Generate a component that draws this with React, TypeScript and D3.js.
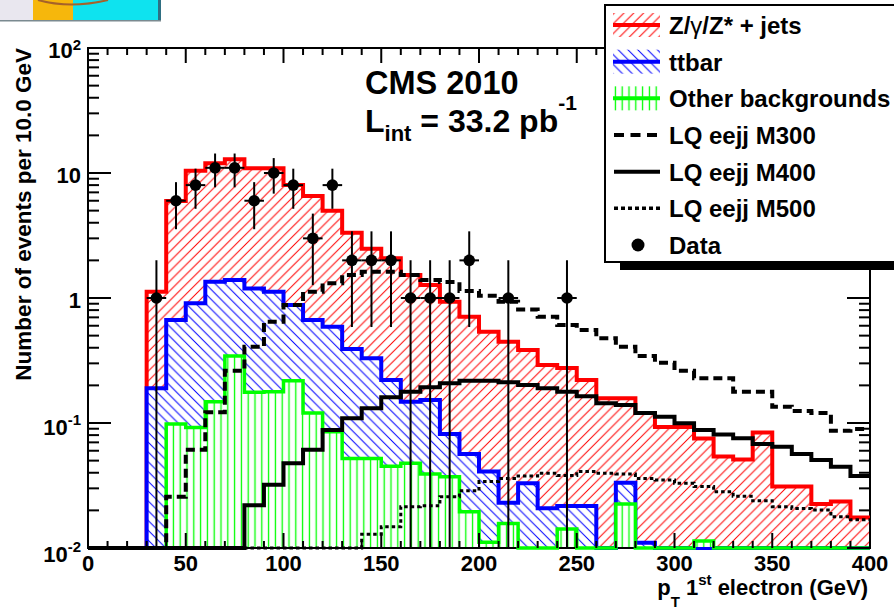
import React from 'react';
import * as d3 from 'd3';

// ---------- data (10 GeV bins, 0..400 GeV) ----------
const BIN_WIDTH = 10;
const binLowEdges = [0,10,20,30,40,50,60,70,80,90,100,110,120,130,140,150,160,170,180,190,200,210,220,230,240,250,260,270,280,290,300,310,320,330,340,350,360,370,380,390];

// stacked totals: Z/gamma/Z*+jets (top of stack)
const zjetsStack = [0,0,0,1.12,5.97,10.4,11.96,12.9,10.9,10.9,8.0,6.55,4.99,3.33,2.48,2.08,1.53,1.27,0.935,0.708,0.537,0.447,0.384,0.291,0.275,0.221,0.158,0.158,0.12,0.093,0.093,0.075,0.054,0.051,0.084,0.031,0.031,0.0225,0.0235,0.0175];
// ttbar + other (stacked)
const ttbarStack = [0,0,0,0.19,0.667,0.906,1.35,1.39,1.19,1.12,0.88,0.667,0.589,0.39,0.33,0.221,0.148,0.153,0.0818,0.0565,0.041,0.023,0.033,0.0208,0.0217,0.0217,0,0.0333,0.011,0,0,0,0,0,0,0,0,0,0,0];
// other backgrounds
const otherBkg = [0,0,0,0,0.098,0.092,0.148,0.344,0.176,0.178,0.218,0.12,0.085,0.052,0.052,0.045,0.0476,0.039,0.0372,0.0195,0.0111,0.0157,0,0,0.0142,0,0,0.0225,0,0,0,0.0114,0,0,0,0,0,0,0,0];
// LQ signals
const lqM300 = [0,0,0,0,0.0257,0.061,0.122,0.262,0.408,0.646,0.88,1.12,1.31,1.53,1.62,1.62,1.53,1.39,1.34,1.14,1.04,0.935,0.81,0.708,0.608,0.555,0.476,0.408,0.344,0.304,0.262,0.228,0.228,0.178,0.178,0.135,0.125,0.12,0.0867,0.0896];
const lqM400 = [0,0,0,0,0,0,0,0,0.022,0.032,0.0476,0.061,0.088,0.109,0.131,0.161,0.178,0.193,0.208,0.218,0.218,0.212,0.201,0.19,0.178,0.164,0.144,0.139,0.12,0.112,0.0995,0.088,0.081,0.0755,0.068,0.0646,0.0565,0.0506,0.0447,0.0377];
const lqM500 = [0,0,0,0,0,0,0,0,0,0,0,0,0,0,0.0129,0.0148,0.0214,0.0218,0.0257,0.0287,0.034,0.036,0.0377,0.0396,0.038,0.041,0.0396,0.039,0.036,0.035,0.033,0.031,0.0282,0.026,0.0239,0.0214,0.0207,0.0201,0.0178,0.0168];
// data counts
const dataCounts = [0,0,0,1,6,8,11,11,6,10,8,3,8,2,2,2,1,1,1,2,0,1,0,0,1,0,0,0,0,0,0,0,0,0,0,0,0,0,0,0];

const xTickValues = [0,50,100,150,200,250,300,350,400];
const xMinorValues = d3.range(0, 401, 10);
const yDecades = [0.01,0.1,1,10,100];
const yDecadeLabels = [['10','-2'],['10','-1'],['1',''],['10',''],['10','2']];

const legendEntries = [
  { key: 'z', label: 'Z/γ/Z* + jets' },
  { key: 't', label: 'ttbar' },
  { key: 'o', label: 'Other backgrounds' },
  { key: 'm3', label: 'LQ eejj M300' },
  { key: 'm4', label: 'LQ eejj M400' },
  { key: 'm5', label: 'LQ eejj M500' },
  { key: 'd', label: 'Data' },
];

const FONT = '"Liberation Sans", Arial, Helvetica, sans-serif';

export default function App() {
  const x = d3.scaleLinear().domain([0, 400]).range([88, 870]);
  const y = d3.scaleLog().domain([0.01, 100]).range([548, 48]);
  const yMin = 0.01, yMax = 100;
  const c = (v: number) => Math.min(yMax, Math.max(yMin, v));
  const floor = y(yMin);

  const stepPath = (vals: number[]) => {
    let d = `M${x(binLowEdges[0])},${y(c(vals[0]))}`;
    vals.forEach((v, i) => {
      if (i > 0) d += `V${y(c(v))}`;
      d += `H${x(binLowEdges[i] + BIN_WIDTH)}`;
    });
    return d;
  };
  const areaPath = (vals: number[]) => {
    let d = `M${x(binLowEdges[0])},${floor}`;
    vals.forEach((v, i) => {
      d += `V${y(c(v))}H${x(binLowEdges[i] + BIN_WIDTH)}`;
    });
    d += `V${floor}Z`;
    return d;
  };

  const minorY: number[] = [];
  yDecades.slice(0, -1).forEach((dec) => {
    for (let k = 2; k <= 9; k++) minorY.push(dec * k);
  });

  const stacks = [
    { vals: zjetsStack, color: '#ff0000', pat: 'url(#hatchRed)', w: 4 },
    { vals: ttbarStack, color: '#0000ff', pat: 'url(#hatchBlue)', w: 4 },
    { vals: otherBkg, color: '#00ff00', pat: 'url(#hatchGreen)', w: 3.5 },
  ];

  const rowY = (i: number) => 25 + i * 36.67;

  return (
    <svg width={894} height={613} style={{ position: 'absolute', left: 0, top: 0, background: '#fff' }} fontFamily={FONT}>
      <defs>
        <pattern id="hatchRed" patternUnits="userSpaceOnUse" width={9.8} height={9.8}>
          <path d="M-1,1 l2,-2 M0,9.8 l9.8,-9.8 M8.8,10.8 l2,-2" stroke="#ff0000" strokeWidth={1} />
        </pattern>
        <pattern id="hatchBlue" patternUnits="userSpaceOnUse" width={9.8} height={9.8}>
          <path d="M-1,8.8 l2,2 M0,0 l9.8,9.8 M8.8,-1 l2,2" stroke="#0000ff" strokeWidth={1} />
        </pattern>
        <pattern id="hatchGreen" patternUnits="userSpaceOnUse" width={6.8} height={10}>
          <path d="M3.4,0 V10" stroke="#00ff00" strokeWidth={1.3} />
        </pattern>
        <clipPath id="inner">
          <rect x={89} y={49} width={780} height={498} />
        </clipPath>
      </defs>

      {/* thumbnail strip at top-left */}
      <g>
        <rect x={0} y={0} width={33} height={21} fill="#e9e7ef" />
        <rect x={33} y={0} width={40} height={21} fill="#f6b70c" />
        <rect x={73} y={0} width={86} height={21} fill="#0ee3ef" />
        <rect x={158} y={0} width={3} height={21} fill="#2f6f82" />
        <path d="M38,0 Q70,9 108,0" fill="none" stroke="#a5622a" strokeWidth={2} />
        <rect x={0} y={20} width={161} height={1.5} fill="#7a8a90" />
      </g>

      {/* frame */}
      <rect x={x(0)} y={y(100)} width={x(400) - x(0)} height={floor - y(100)} fill="none" stroke="#000" strokeWidth={2} />

      {/* stacked histograms */}
      {stacks.map((s, i) => (
        <g key={i}>
          <path d={areaPath(s.vals)} fill="#fff" clipPath="url(#inner)" />
          <path d={areaPath(s.vals)} fill={s.pat} clipPath="url(#inner)" />
          <path d={stepPath(s.vals)} fill="none" stroke={s.color} strokeWidth={s.w} />
        </g>
      ))}

      {/* LQ signal lines */}
      <path d={stepPath(lqM300)} fill="none" stroke="#000" strokeWidth={4} strokeDasharray="9 5" />
      <path d={stepPath(lqM400)} fill="none" stroke="#000" strokeWidth={4} />
      <path d={stepPath(lqM500)} fill="none" stroke="#000" strokeWidth={3} strokeDasharray="3.5 3" />

      {/* axis ticks */}
      <g stroke="#000" strokeWidth={2}>
        {yDecades.map((v) => (
          <g key={'yd' + v}>
            <line x1={x(0)} x2={x(0) + 23} y1={y(v)} y2={y(v)} />
            <line x1={x(400)} x2={x(400) - 23} y1={y(v)} y2={y(v)} />
          </g>
        ))}
        {minorY.map((v) => (
          <g key={'ym' + v}>
            <line x1={x(0)} x2={x(0) + 11} y1={y(v)} y2={y(v)} />
            <line x1={x(400)} x2={x(400) - 11} y1={y(v)} y2={y(v)} />
          </g>
        ))}
        {xMinorValues.map((v) => {
          const major = v % 50 === 0;
          const len = major ? 15 : 7;
          return (
            <g key={'xt' + v}>
              <line x1={x(v)} x2={x(v)} y1={floor} y2={floor - len} />
              <line x1={x(v)} x2={x(v)} y1={y(100)} y2={y(100) + len} />
            </g>
          );
        })}
      </g>

      {/* data with errors */}
      <g>
        {dataCounts.map((n, i) => {
          if (n <= 0) return null;
          const cx = x(binLowEdges[i] + BIN_WIDTH / 2);
          const cy = y(n);
          const e = Math.sqrt(n);
          return (
            <g key={'d' + i}>
              <line x1={cx} x2={cx} y1={y(c(n - e))} y2={y(c(n + e))} stroke="#000" strokeWidth={2} />
              <line x1={x(binLowEdges[i])} x2={x(binLowEdges[i] + BIN_WIDTH)} y1={cy} y2={cy} stroke="#000" strokeWidth={2} />
              <circle cx={cx} cy={cy} r={5.8} fill="#000" />
            </g>
          );
        })}
      </g>

      {/* tick labels */}
      <g fontWeight="bold" fontSize={22} fill="#000">
        {xTickValues.map((v) => (
          <text key={'xl' + v} x={x(v)} y={571} textAnchor="middle">{v}</text>
        ))}
        {yDecades.map((v, i) => (
          <text key={'yl' + v} x={81} y={y(v) + (v <= 0.01 ? 14 : v < 1 ? 12 : 10)} textAnchor="end">
            {yDecadeLabels[i][0]}
            {yDecadeLabels[i][1] !== '' && (
              <tspan fontSize={15} dy={v > 1 ? -8 : -10}>{yDecadeLabels[i][1]}</tspan>
            )}
          </text>
        ))}
      </g>

      {/* axis titles */}
      <text x={868} y={595} textAnchor="end" fontWeight="bold" fontSize={22}>
        p<tspan fontSize={15} dy={12}>T</tspan>
        <tspan dy={-12}> 1</tspan>
        <tspan fontSize={15} dy={-10}>st</tspan>
        <tspan dy={10}> electron (GeV)</tspan>
      </text>
      <text x={31} y={48} textAnchor="end" fontWeight="bold" fontSize={22.5} transform="rotate(-90 31 48)">
        Number of events per 10.0 GeV
      </text>

      {/* CMS label */}
      <text x={365} y={94} fontWeight="bold" fontSize={32.5}>CMS 2010</text>
      <text x={365} y={132} fontWeight="bold" fontSize={32}>
        L<tspan fontSize={22} dy={9}>int</tspan>
        <tspan dy={-9}> = 33.2 pb</tspan>
        <tspan fontSize={21} dy={-22}>-1</tspan>
      </text>

      {/* legend */}
      <g>
        <rect x={620} y={261} width={290} height={9} fill="#000" />
        <rect x={605} y={5} width={300} height={257} fill="#fff" stroke="#000" strokeWidth={2} />
        {legendEntries.map((e, i) => {
          const cy = rowY(i);
          let sym: React.ReactNode = null;
          if (e.key === 'z' || e.key === 't' || e.key === 'o') {
            const pat = e.key === 'z' ? 'url(#hatchRed)' : e.key === 't' ? 'url(#hatchBlue)' : 'url(#hatchGreen)';
            const col = e.key === 'z' ? '#ff0000' : e.key === 't' ? '#0000ff' : '#00ff00';
            sym = (
              <g>
                <rect x={613} y={cy - 12} width={47} height={24} fill={pat} />
                <line x1={613} x2={660} y1={cy} y2={cy} stroke={col} strokeWidth={4} />
              </g>
            );
          } else if (e.key === 'm3') {
            sym = <line x1={614} x2={660} y1={cy} y2={cy} stroke="#000" strokeWidth={4} strokeDasharray="10 6.5" />;
          } else if (e.key === 'm4') {
            sym = <line x1={614} x2={660} y1={cy} y2={cy} stroke="#000" strokeWidth={4} />;
          } else if (e.key === 'm5') {
            sym = <line x1={614} x2={660} y1={cy} y2={cy} stroke="#000" strokeWidth={3.5} strokeDasharray="4 3" />;
          } else {
            sym = <circle cx={638} cy={cy} r={6.5} fill="#000" />;
          }
          return (
            <g key={e.key}>
              {sym}
              <text x={669} y={cy + 9} fontWeight="bold" fontSize={24}>
                {e.key === 'z' ? (
                  <>
                    Z/<tspan fontWeight="normal">γ</tspan>/Z* + jets
                  </>
                ) : (
                  e.label
                )}
              </text>
            </g>
          );
        })}
      </g>
    </svg>
  );
}
